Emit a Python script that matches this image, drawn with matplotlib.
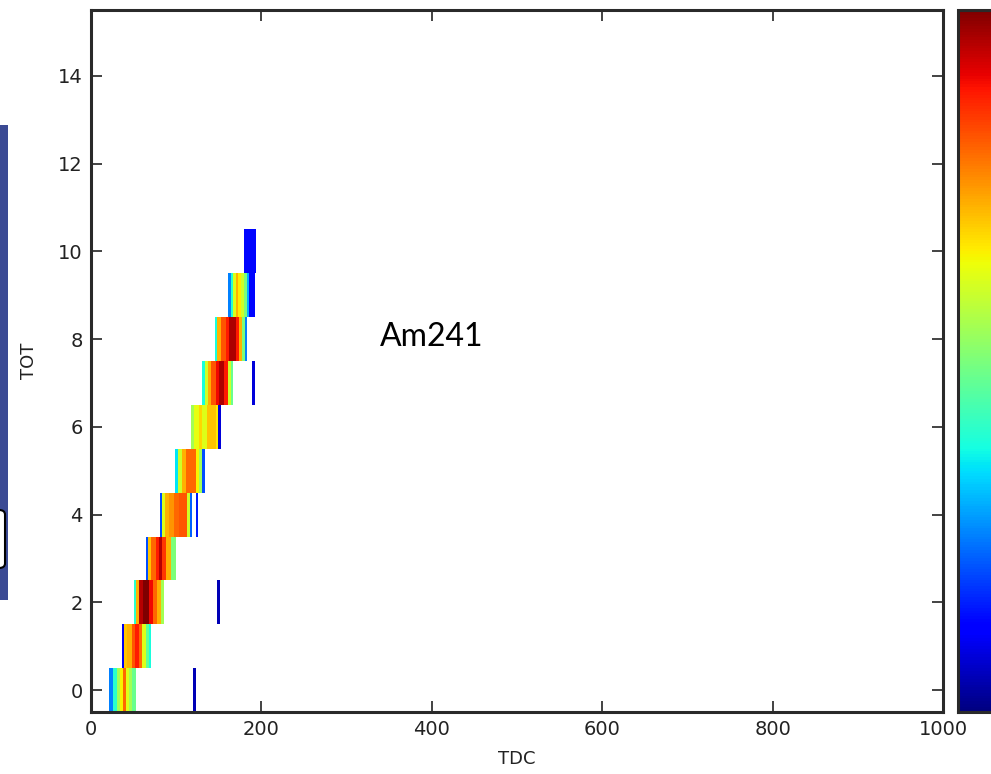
import numpy as np
import matplotlib
matplotlib.use("Agg")
import matplotlib.pyplot as plt
from matplotlib.patches import Rectangle, FancyBboxPatch

# ─── DATA ─────────────────────────────────────────────────────────────────────
# TDC axis: 0..1000, 1-count bins; TOT rows 0..15.
# Each TOT row: list of (tdc_lo, tdc_hi, relative count).
TDC_RANGE = (0, 1000)
TOT_RANGE = (0, 16)

tot_00 = [(21, 26, 0.25), (26, 31, 0.40), (31, 34, 0.55), (34, 38, 0.65),
          (38, 41, 0.80), (41, 45, 0.62), (45, 48, 0.55), (48, 53, 0.48),
          (120, 123, 0.05)]
tot_01 = [(36, 39, 0.10), (39, 42, 0.70), (42, 48, 0.72), (48, 52, 0.82),
          (52, 56, 0.88), (56, 60, 0.80), (60, 65, 0.62), (65, 68, 0.47),
          (68, 70, 0.38)]
tot_02 = [(50, 53, 0.40), (53, 56, 0.72), (56, 61, 0.95), (61, 68, 1.00),
          (68, 73, 0.90), (73, 78, 0.80), (78, 82, 0.72), (82, 86, 0.55),
          (148, 151, 0.05)]
tot_03 = [(64, 67, 0.20), (67, 70, 0.70), (70, 76, 0.80), (76, 80, 0.88),
          (80, 83, 0.95), (83, 88, 0.85), (88, 94, 0.72), (94, 100, 0.50)]
tot_04 = [(81, 83, 0.20), (83, 87, 0.62), (87, 92, 0.72), (92, 97, 0.75),
          (97, 103, 0.80), (103, 113, 0.82), (113, 116, 0.60), (116, 119, 0.22),
          (123, 126, 0.15)]
tot_05 = [(99, 102, 0.35), (102, 107, 0.60), (107, 112, 0.72), (112, 123, 0.80),
          (123, 127, 0.65), (127, 130, 0.55), (130, 134, 0.20)]
tot_06 = [(117, 121, 0.55), (121, 127, 0.63), (127, 130, 0.68), (130, 136, 0.62),
          (136, 147, 0.70), (147, 149, 0.66), (149, 152, 0.08)]
tot_07 = [(130, 134, 0.38), (134, 137, 0.60), (137, 141, 0.72), (141, 147, 0.82),
          (147, 150, 0.90), (150, 156, 0.96), (156, 161, 0.88), (161, 164, 0.60),
          (164, 167, 0.48), (189, 192, 0.08)]
tot_08 = [(146, 148, 0.38), (148, 153, 0.72), (153, 159, 0.82), (159, 162, 0.88),
          (162, 170, 0.96), (170, 174, 0.88), (174, 177, 0.72), (177, 181, 0.50),
          (181, 183, 0.25)]
tot_09 = [(161, 164, 0.25), (164, 167, 0.40), (167, 170, 0.62), (170, 173, 0.72),
          (173, 176, 0.66), (176, 180, 0.60), (180, 183, 0.50), (183, 186, 0.30),
          (186, 192, 0.13)]
tot_10 = [(180, 194, 0.13)]

TOT_ROWS = [tot_00, tot_01, tot_02, tot_03, tot_04, tot_05,
            tot_06, tot_07, tot_08, tot_09, tot_10]

SOURCE_LABEL = "Am241"
X_TICKS = [0, 200, 400, 600, 800, 1000]
Y_TICKS = [0, 2, 4, 6, 8, 10, 12, 14]

# ─── BUILD HISTOGRAM ──────────────────────────────────────────────────────────
n_tdc = TDC_RANGE[1] - TDC_RANGE[0]
n_tot = TOT_RANGE[1] - TOT_RANGE[0]
hist = np.zeros((n_tot, n_tdc))
for tot, segs in enumerate(TOT_ROWS):
    for lo, hi, v in segs:
        hist[tot, lo:hi] = v
hist = np.ma.masked_less_equal(hist, 0)

# ─── PLOT ─────────────────────────────────────────────────────────────────────
plt.rcParams["font.family"] = ["DejaVu Sans"]
W, H = 991, 774
fig = plt.figure(figsize=(W / 100, H / 100), dpi=100)
fig.patch.set_facecolor("white")

# slide leftovers on the left edge
fig.patches.append(Rectangle((0, 1 - 600 / H), 8 / W, 475 / H,
                             transform=fig.transFigure, facecolor="#3b4a94",
                             edgecolor="none", zorder=0))
fig.patches.append(FancyBboxPatch((-10 / W, 1 - 568 / H), 15 / W, 58 / H,
                                  boxstyle="round,pad=0,rounding_size=0.006",
                                  transform=fig.transFigure, facecolor="white",
                                  edgecolor="black", linewidth=1.5, zorder=1))

ax = fig.add_axes([91 / W, (H - 712) / H, 852 / W, 702 / H])
cmap = plt.get_cmap("jet").copy()
cmap.set_bad("white")
im = ax.imshow(hist, cmap=cmap, vmin=0, vmax=1, origin="lower", aspect="auto",
               extent=[TDC_RANGE[0], TDC_RANGE[1], -0.5, n_tot - 0.5],
               interpolation="nearest")

ax.set_xlim(0, 1000)
ax.set_ylim(-0.5, 15.5)
ax.set_xticks(X_TICKS)
ax.set_yticks(Y_TICKS)
ax.tick_params(direction="in", length=8, width=1.2, top=True, right=True,
               labelsize=14, colors="#222222", pad=6)
for s in ax.spines.values():
    s.set_linewidth(2.2)
    s.set_color("#2a2a2a")
ax.set_xlabel("TDC", fontsize=13, color="#222222", labelpad=8)
ax.set_ylabel("TOT", fontsize=13, color="#222222", labelpad=14)

ax.text(400, 8.05, SOURCE_LABEL, fontsize=23, family=["Lato", "DejaVu Sans"],
        ha="center", va="center", color="black")

# colorbar, cut off by the right edge like in the picture
cax = fig.add_axes([958 / W, (H - 712) / H, 45 / W, 702 / H])
cb = fig.colorbar(im, cax=cax)
cb.outline.set_linewidth(2.2)
cb.outline.set_edgecolor("#2a2a2a")
cax.set_yticks([])

fig.savefig("out.png", dpi=100)
